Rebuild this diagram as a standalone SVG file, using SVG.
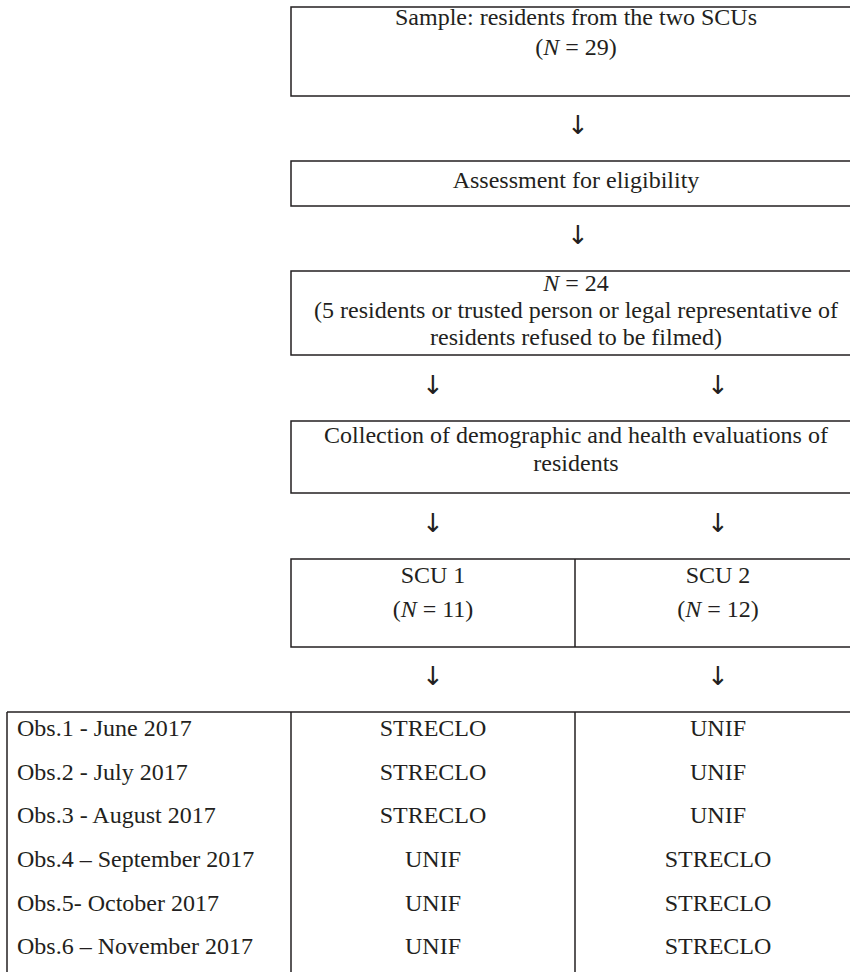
<svg xmlns="http://www.w3.org/2000/svg" width="850" height="972" viewBox="0 0 850 972">
<style>
text{font-family:"Liberation Serif","Times New Roman",serif;font-size:24px;fill:#231f20}
.c{text-anchor:middle}
.box{fill:none;stroke:#231f20;stroke-width:1.5}
.ln{stroke:#231f20;stroke-width:1.5}
.ar{font-family:"DejaVu Sans",sans-serif;font-size:26px;text-anchor:middle}
</style>
<rect width="850" height="972" fill="#fff"/>
<g id="n1"><rect class="box" x="291" y="7" width="580" height="89"/><text class="c" x="576" y="25">Sample: residents from the two SCUs</text><text class="c" x="576" y="55">(<tspan font-style="italic">N</tspan> = 29)</text></g>
<g id="n2"><rect class="box" x="291" y="161" width="580" height="45"/><text class="c" x="576" y="188">Assessment for eligibility</text></g>
<g id="n3"><rect class="box" x="291" y="271" width="580" height="84"/><text class="c" x="576" y="291"><tspan font-style="italic">N</tspan> = 24</text><text class="c" x="576" y="318">(5 residents or trusted person or legal representative of</text><text class="c" x="576" y="345">residents refused to be filmed)</text></g>
<g id="n4"><rect class="box" x="291" y="421" width="580" height="72"/><text class="c" x="576" y="443">Collection of demographic and health evaluations of</text><text class="c" x="576" y="471">residents</text></g>
<g id="n5"><rect class="box" x="291" y="559" width="580" height="88"/><line class="ln" x1="575" y1="559" x2="575" y2="647"/><text class="c" x="433" y="583">SCU 1</text><text class="c" x="433" y="617">(<tspan font-style="italic">N</tspan> = 11)</text><text class="c" x="718" y="583">SCU 2</text><text class="c" x="718" y="617">(<tspan font-style="italic">N</tspan> = 12)</text></g>
<g id="table">
<line class="ln" x1="7" y1="712" x2="860" y2="712"/>
<line class="ln" x1="7" y1="712" x2="7" y2="972"/>
<line class="ln" x1="291" y1="712" x2="291" y2="972"/>
<line class="ln" x1="575" y1="712" x2="575" y2="972"/>
<text x="17" y="736">Obs.1 - June 2017</text><text class="c" x="433" y="736">STRECLO</text><text class="c" x="718" y="736">UNIF</text>
<text x="17" y="780">Obs.2 - July 2017</text><text class="c" x="433" y="780">STRECLO</text><text class="c" x="718" y="780">UNIF</text>
<text x="17" y="823">Obs.3 - August 2017</text><text class="c" x="433" y="823">STRECLO</text><text class="c" x="718" y="823">UNIF</text>
<text x="17" y="867">Obs.4 – September 2017</text><text class="c" x="433" y="867">UNIF</text><text class="c" x="718" y="867">STRECLO</text>
<text x="17" y="911">Obs.5- October 2017</text><text class="c" x="433" y="911">UNIF</text><text class="c" x="718" y="911">STRECLO</text>
<text x="17" y="954">Obs.6 – November 2017</text><text class="c" x="433" y="954">UNIF</text><text class="c" x="718" y="954">STRECLO</text>
</g>
<g id="connectors">
<text class="ar" x="578" y="134">↓</text>
<text class="ar" x="578" y="244">↓</text>
<text class="ar" x="433" y="394">↓</text><text class="ar" x="718" y="394">↓</text>
<text class="ar" x="433" y="532">↓</text><text class="ar" x="718" y="532">↓</text>
<text class="ar" x="433" y="685">↓</text><text class="ar" x="718" y="685">↓</text>
</g>
</svg>
